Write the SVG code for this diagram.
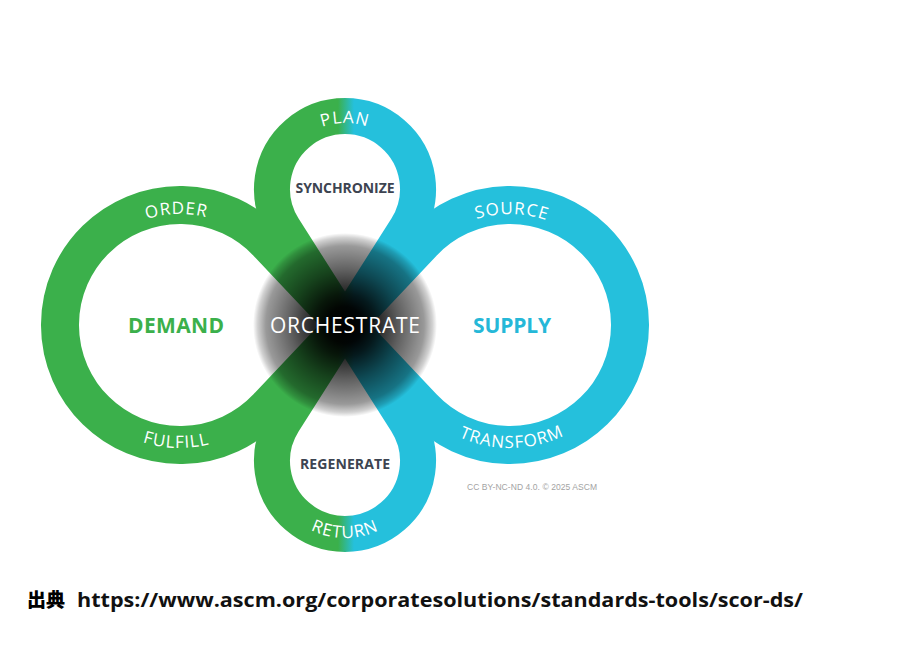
<svg xmlns="http://www.w3.org/2000/svg" width="907" height="653" viewBox="0 0 907 653">
<style>
.band{fill:none;stroke-linecap:butt;stroke-linejoin:round}
.arc{font-family:"Open Sans","Liberation Sans",sans-serif;font-size:17px;fill:#ffffff;letter-spacing:1px}
.big{font-family:"Open Sans","Liberation Sans",sans-serif;font-size:21px;font-weight:700;text-anchor:middle;dominant-baseline:central}
.sub{font-family:"Open Sans","Liberation Sans",sans-serif;font-size:14px;font-weight:700;fill:#3d4451;text-anchor:middle;dominant-baseline:central}
</style>
<defs>
<linearGradient id="gv" gradientUnits="userSpaceOnUse" x1="338" y1="0" x2="354" y2="0">
<stop offset="0" stop-color="#3bb04b"/>
<stop offset="1" stop-color="#25c0dc"/>
</linearGradient>
<radialGradient id="dark" gradientUnits="userSpaceOnUse" cx="345" cy="325" r="92">
<stop offset="0" stop-color="#000" stop-opacity="1"/>
<stop offset="0.2" stop-color="#000" stop-opacity="0.97"/>
<stop offset="0.34" stop-color="#000" stop-opacity="0.87"/>
<stop offset="0.6" stop-color="#000" stop-opacity="0.62"/>
<stop offset="0.86" stop-color="#000" stop-opacity="0.4"/>
<stop offset="0.95" stop-color="#000" stop-opacity="0.18"/>
<stop offset="1" stop-color="#000" stop-opacity="0"/>
</radialGradient>
<path id="pOrder" d="M 69 325 A 111 111 0 0 1 291 325"/>
<path id="pFulfill" d="M 57 325 A 123 123 0 0 0 303 325"/>
<path id="pSource" d="M 399 325 A 111 111 0 0 1 621 325"/>
<path id="pTransform" d="M 387 325 A 123 123 0 0 0 633 325"/>
<path id="pPlan" d="M 279 189 A 66 66 0 0 1 411 189"/>
<path id="pReturn" d="M 268 461 A 77 77 0 0 0 422 461"/>
</defs>
<rect width="907" height="653" fill="#ffffff"/>

<g id="demand">
<path class="band" stroke="#3bb04b" stroke-width="38" d="M 358.7 339.5 L 267.3 242.7 A 120 120 0 1 0 267.3 407.3 L 358.7 310.5"/>
</g>
<g id="supply">
<path class="band" stroke="#25c0dc" stroke-width="38" d="M 331.3 339.5 L 422.7 242.7 A 120 120 0 1 1 422.7 407.3 L 331.3 310.5"/>
</g>
<g id="plan">
<path class="band" stroke="url(#gv)" stroke-width="36" d="M 355.7 341.9 L 283.4 228.2 A 73 73 0 1 1 406.6 228.2 L 334.3 341.9"/>
</g>
<g id="return">
<path class="band" stroke="url(#gv)" stroke-width="36" d="M 355.7 308.1 L 283.4 421.8 A 73 73 0 1 0 406.6 421.8 L 334.3 308.1"/>
</g>
<g id="orchestrate">
<circle cx="345" cy="325" r="92" fill="url(#dark)"/>
<text class="big" x="345" y="325" fill="#ffffff" style="font-weight:400" textLength="150">ORCHESTRATE</text>
</g>

<g id="labels">
<text class="arc"><textPath href="#pOrder" startOffset="49%" text-anchor="middle">ORDER</textPath></text>
<text class="arc"><textPath href="#pFulfill" startOffset="49%" text-anchor="middle">FULFILL</textPath></text>
<text class="arc"><textPath href="#pSource" startOffset="50.5%" text-anchor="middle">SOURCE</textPath></text>
<text class="arc"><textPath href="#pTransform" startOffset="50.5%" text-anchor="middle">TRANSFORM</textPath></text>
<text class="arc"><textPath href="#pPlan" startOffset="50%" text-anchor="middle">PLAN</textPath></text>
<text class="arc"><textPath href="#pReturn" startOffset="50%" text-anchor="middle">RETURN</textPath></text>
<text class="big" x="176" y="325" fill="#3bb04b" textLength="96">DEMAND</text>
<text class="big" x="512" y="325" fill="#25b8d8" textLength="78">SUPPLY</text>
<text class="sub" x="345" y="187" textLength="99">SYNCHRONIZE</text>
<text class="sub" x="345" y="463" textLength="90">REGENERATE</text>
<text x="532" y="490" font-family="'Liberation Sans',Arial,sans-serif" font-size="8.5" fill="#a3a3a3" text-anchor="middle" textLength="130">CC BY-NC-ND 4.0. © 2025 ASCM</text>
</g>

<g id="source">
<text x="27" y="607" font-family="'Noto Sans CJK JP',sans-serif" font-size="19" font-weight="900" fill="#000">出典</text>
<text x="77" y="607" font-family="'Open Sans','Noto Sans',sans-serif" font-size="19" font-weight="700" fill="#111" textLength="726" lengthAdjust="spacingAndGlyphs">https://www.ascm.org/corporatesolutions/standards-tools/scor-ds/</text>
</g>
</svg>
